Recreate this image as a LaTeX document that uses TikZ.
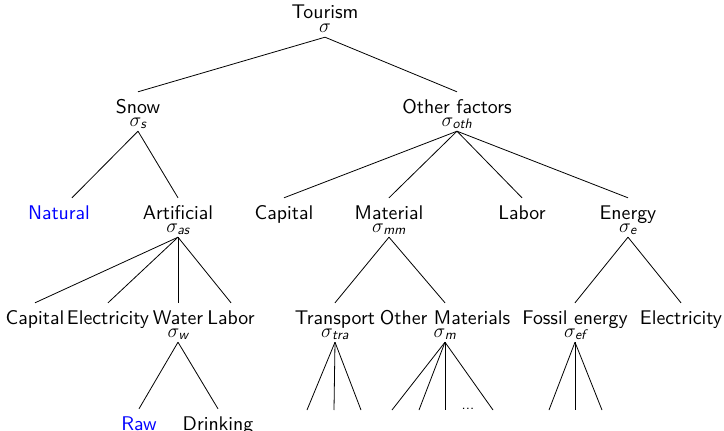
\RequirePackage{fix-cm}
\documentclass[tikz,border=0pt]{standalone}
\usepackage{amsmath}
\usepackage{fontspec}
\setsansfont{lmsans10-regular.otf}[ItalicFont=lmsans10-oblique.otf]
\begin{document}
\begin{tikzpicture}[x=1pt,y=-1pt,
  lab/.style={anchor=base,inner sep=0pt,text height=21pt,font=\sffamily\fontsize{19.8}{22}\selectfont},
  sig/.style={anchor=base,inner sep=0pt,text depth=5pt,font=\sffamily\fontsize{19.8}{22}\selectfont},
  edge/.style={draw,line width=0.8pt},
  hl/.style={text=blue}]
\useasboundingbox (0,0) rectangle (724,431);
% level 0
\node[lab] (tour) at (325,19) {Tourism};
\node[sig] (tours) at (325,32) {$\sigma$};
% level 1
\node[lab] (snow) at (138,113) {Snow};
\node[sig] (snows) at (138,126) {$\sigma_{\text{\itshape s}}$};
\node[lab] (oth) at (457,113) {Other factors};
\node[sig] (oths) at (457,126) {$\sigma_{\text{\itshape oth}}$};
% level 2
\node[lab,hl] (natural) at (59,219) {Natural};
\node[lab] (artificial) at (178,219) {Artificial};
\node[sig] (arts) at (178,232) {$\sigma_{\text{\itshape as}}$};
\node[lab] (capA) at (284,219) {Capital};
\node[lab] (material) at (389,219) {Material};
\node[sig] (mats) at (389,232) {$\sigma_{\text{\itshape mm}}$};
\node[lab] (laborA) at (522,219) {Labor};
\node[lab] (energy) at (628,219) {Energy};
\node[sig] (ens) at (628,232) {$\sigma_{\text{\itshape e}}$};
% level 3
\node[lab] (capB) at (35,324) {Capital};
\node[lab] (elecA) at (108,324) {Electricity};
\node[lab] (water) at (178,324) {Water};
\node[sig] (waters) at (178,337) {$\sigma_{\text{\itshape w}}$};
\node[lab] (laborB) at (231,324) {Labor};
\node[lab] (transport) at (335,324) {Transport};
\node[sig] (trs) at (335,337) {$\sigma_{\text{\itshape tra}}$};
\node[lab] (othermat) at (445,324) {Other Materials};
\node[sig] (oms) at (445,337) {$\sigma_{\text{\itshape m}}$};
\node[lab] (fossil) at (575,324) {Fossil energy};
\node[sig] (fos) at (575,337) {$\sigma_{\text{\itshape ef}}$};
\node[lab] (elecB) at (681,324) {Electricity};
% level 4
\node[lab,hl] (raw) at (139,430) {Raw};
\node[lab] (drink) at (218,430) {Drinking};
\node[anchor=base,inner sep=0pt,font=\sffamily\fontsize{15}{18}\selectfont] (dots) at (468,409) {...};
% free ends
\coordinate (t1) at (307,410); \coordinate (t2) at (334,410); \coordinate (t3) at (361,410);
\coordinate (m1) at (392,410); \coordinate (m2) at (419,410); \coordinate (m3) at (445,410); \coordinate (m4) at (493,410);
\coordinate (f1) at (549,410); \coordinate (f2) at (575,410); \coordinate (f3) at (602,410);
% connectors
\draw[edge] (tours.south) -- (snow.north);
\draw[edge] (tours.south) -- (oth.north);
\draw[edge] (snows.south) -- ([xshift=13pt]natural.north);
\draw[edge] (snows.south) -- (artificial.north);
\foreach \c in {capA,material,laborA,energy} \draw[edge] (oths.south) -- (\c.north);
\foreach \c in {capB,elecA,water,laborB} \draw[edge] (arts.south) -- (\c.north);
\foreach \c in {raw,drink} \draw[edge] (waters.south) -- (\c.north);
\foreach \c in {transport,othermat} \draw[edge] (mats.south) -- (\c.north);
\foreach \c in {fossil,elecB} \draw[edge] (ens.south) -- (\c.north);
\foreach \c in {t1,t2,t3} \draw[edge] (trs.south) -- (\c);
\foreach \c in {m1,m2,m3,m4} \draw[edge] (oms.south) -- (\c);
\foreach \c in {f1,f2,f3} \draw[edge] (fos.south) -- (\c);
\end{tikzpicture}
\end{document}
